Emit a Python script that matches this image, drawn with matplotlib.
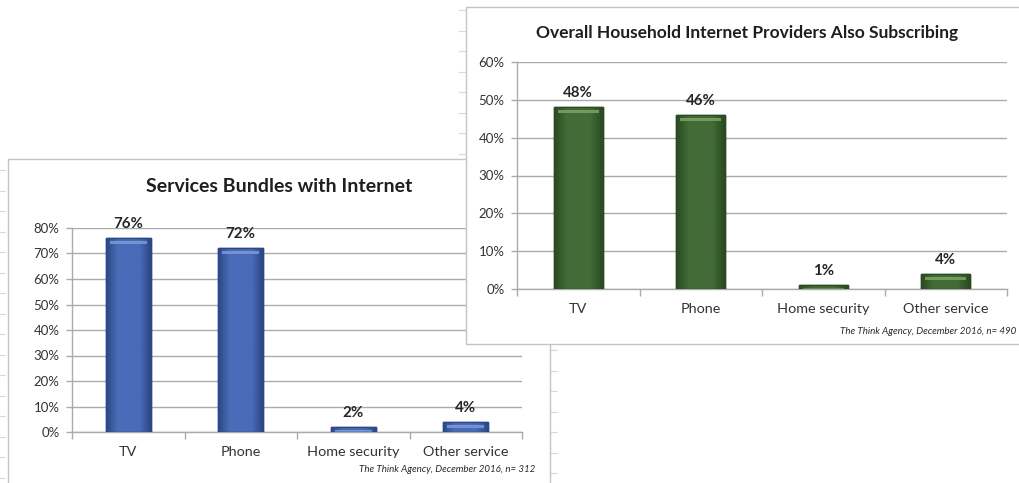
import numpy as np
import matplotlib
matplotlib.use("Agg")
import matplotlib.pyplot as plt
from matplotlib.patches import Rectangle
from matplotlib.colors import LinearSegmentedColormap
from matplotlib.ticker import FixedLocator, PercentFormatter

plt.rcParams["font.family"] = ["Lato", "DejaVu Sans"]

# ---- data -------------------------------------------------------------
categories = ["TV", "Phone", "Home security", "Other service"]

bundle_values = [76, 72, 2, 4]          # Services bundled with internet (%)
bundle_title = "Services Bundles with Internet"
bundle_note = "The Think Agency, December 2016, n= 312"
bundle_yticks = [0, 10, 20, 30, 40, 50, 60, 70, 80]

provider_values = [48, 46, 1, 4]        # Internet providers also subscribing (%)
provider_title = "Overall Household Internet Providers Also Subscribing"
provider_note = "The Think Agency, December 2016, n= 490"
provider_yticks = [0, 10, 20, 30, 40, 50, 60]

# ---- canvas -----------------------------------------------------------
W, H = 1019, 483
fig = plt.figure(figsize=(W / 100, H / 100), dpi=100)
fig.patch.set_facecolor("white")


def fx(x):
    return x / W


def fy(y):
    return 1 - y / H


PANEL_EDGE = "#c4c4c4"
GRID = "#ababab"
TEXT = "#333333"


def panel(x0, y0, x1, y1, z):
    r = Rectangle((fx(x0), fy(y1)), fx(x1) - fx(x0), fy(y0) - fy(y1),
                  transform=fig.transFigure, facecolor="white",
                  edgecolor=PANEL_EDGE, lw=1.0, zorder=z)
    fig.patches.append(r)


def sheet_ticks(x0, x1, ys, z):
    for y in ys:
        fig.add_artist(plt.Line2D([fx(x0), fx(x1)], [fy(y), fy(y)],
                                  transform=fig.transFigure,
                                  color="#dadada", lw=0.8, zorder=z))


# faint spreadsheet marks around the pasted charts
sheet_ticks(0, 5, np.arange(170, 483, 20.5), -3)
sheet_ticks(459, 465, np.arange(10, 160, 20.5), -3)
sheet_ticks(551, 557, np.arange(350, 483, 20.5), -3)

panel(8, 159, 550, 500, -2)     # lower-left sheet
panel(466, 7, 1030, 344, 1)     # upper-right sheet (on top)


def draw_chart(ax, values, yticks, main, dark, light, ax_px_h):
    ymax = yticks[-1]
    x = np.arange(len(categories))
    width = 0.4
    ax.set_xlim(-0.5, len(categories) - 0.5)
    ax.set_ylim(0, ymax)
    ax.set_facecolor("none")

    px = ymax / ax_px_h                      # data units per pixel (vertical)
    cat_px = ax.get_position().width * W / len(categories)
    pxx = 1.0 / cat_px                       # data units per pixel (horizontal)

    cmap = LinearSegmentedColormap.from_list(
        "bevel", [dark, main, main, main, dark])
    grad = np.linspace(0, 1, 64).reshape(1, -1)

    bars = ax.bar(x, values, width=width, color=main, edgecolor=dark,
                  lw=1.0, zorder=3)
    for xi, v, b in zip(x, values, bars):
        im = ax.imshow(grad, cmap=cmap, aspect="auto",
                       extent=(xi - width / 2, xi + width / 2, 0, v),
                       zorder=3.5, interpolation="bilinear")
        im.set_clip_path(b)
        hl = Rectangle((xi - width / 2 + 4 * pxx, v - 6 * px),
                       width - 8 * pxx, 3 * px, facecolor=light,
                       edgecolor="none", zorder=3.8, alpha=0.85)
        ax.add_patch(hl)
        hl.set_clip_path(b)
        edge = Rectangle((xi - width / 2, 0), width, v, facecolor="none",
                         edgecolor=dark, lw=1.0, zorder=4)
        ax.add_patch(edge)
        ax.annotate(f"{v}%", (xi, v), xytext=(0, 5),
                    textcoords="offset points", ha="center", va="bottom",
                    fontsize=10.8, fontweight="bold", color="#262626",
                    zorder=5)

    ax.yaxis.set_major_locator(FixedLocator(yticks))
    ax.yaxis.set_major_formatter(PercentFormatter(decimals=0))
    ax.grid(axis="y", color=GRID, lw=1.0, zorder=0)
    ax.set_axisbelow(True)

    ax.set_xticks(x)
    ax.set_xticklabels(categories)
    ax.xaxis.set_minor_locator(
        FixedLocator(np.arange(-0.5, len(categories), 1.0)))
    ax.tick_params(axis="x", which="major", length=0, pad=10,
                   labelsize=10.4, labelcolor=TEXT)
    ax.tick_params(axis="x", which="minor", length=5, width=1.0,
                   color=GRID, direction="out")
    ax.tick_params(axis="y", length=4, width=1.0, color=GRID,
                   direction="out", pad=5, labelsize=9.5, labelcolor=TEXT)
    for s in ("top", "right"):
        ax.spines[s].set_visible(False)
    for s in ("left", "bottom"):
        ax.spines[s].set_color(GRID)
        ax.spines[s].set_linewidth(1.0)


# ---- lower-left chart -------------------------------------------------
ax1 = fig.add_axes([fx(72), fy(432), fx(522) - fx(72), fy(228) - fy(432)],
                   zorder=0)
draw_chart(ax1, bundle_values, bundle_yticks,
           main="#4a6cb8", dark="#2c4786", light="#7e9ad6", ax_px_h=204)
fig.text(fx(279), fy(187), bundle_title, ha="center", va="center",
         fontsize=14, fontweight="bold", color="#1e1e1e", zorder=0)
fig.text(fx(535), fy(469), bundle_note, ha="right", va="center",
         fontsize=7, fontstyle="italic", color="#2a2a2a", zorder=0)

# ---- upper-right chart ------------------------------------------------
ax2 = fig.add_axes([fx(517), fy(289), fx(1007) - fx(517), fy(62) - fy(289)],
                   zorder=2)
draw_chart(ax2, provider_values, provider_yticks,
           main="#436b37", dark="#2a4a22", light="#79a564", ax_px_h=227)
fig.text(fx(747), fy(33), provider_title, ha="center", va="center",
         fontsize=12.5, fontweight="bold", color="#1e1e1e", zorder=3)
fig.text(fx(1016), fy(332), provider_note, ha="right", va="center",
         fontsize=7, fontstyle="italic", color="#2a2a2a", zorder=3)

fig.savefig("out.png", dpi=100, facecolor="white")
